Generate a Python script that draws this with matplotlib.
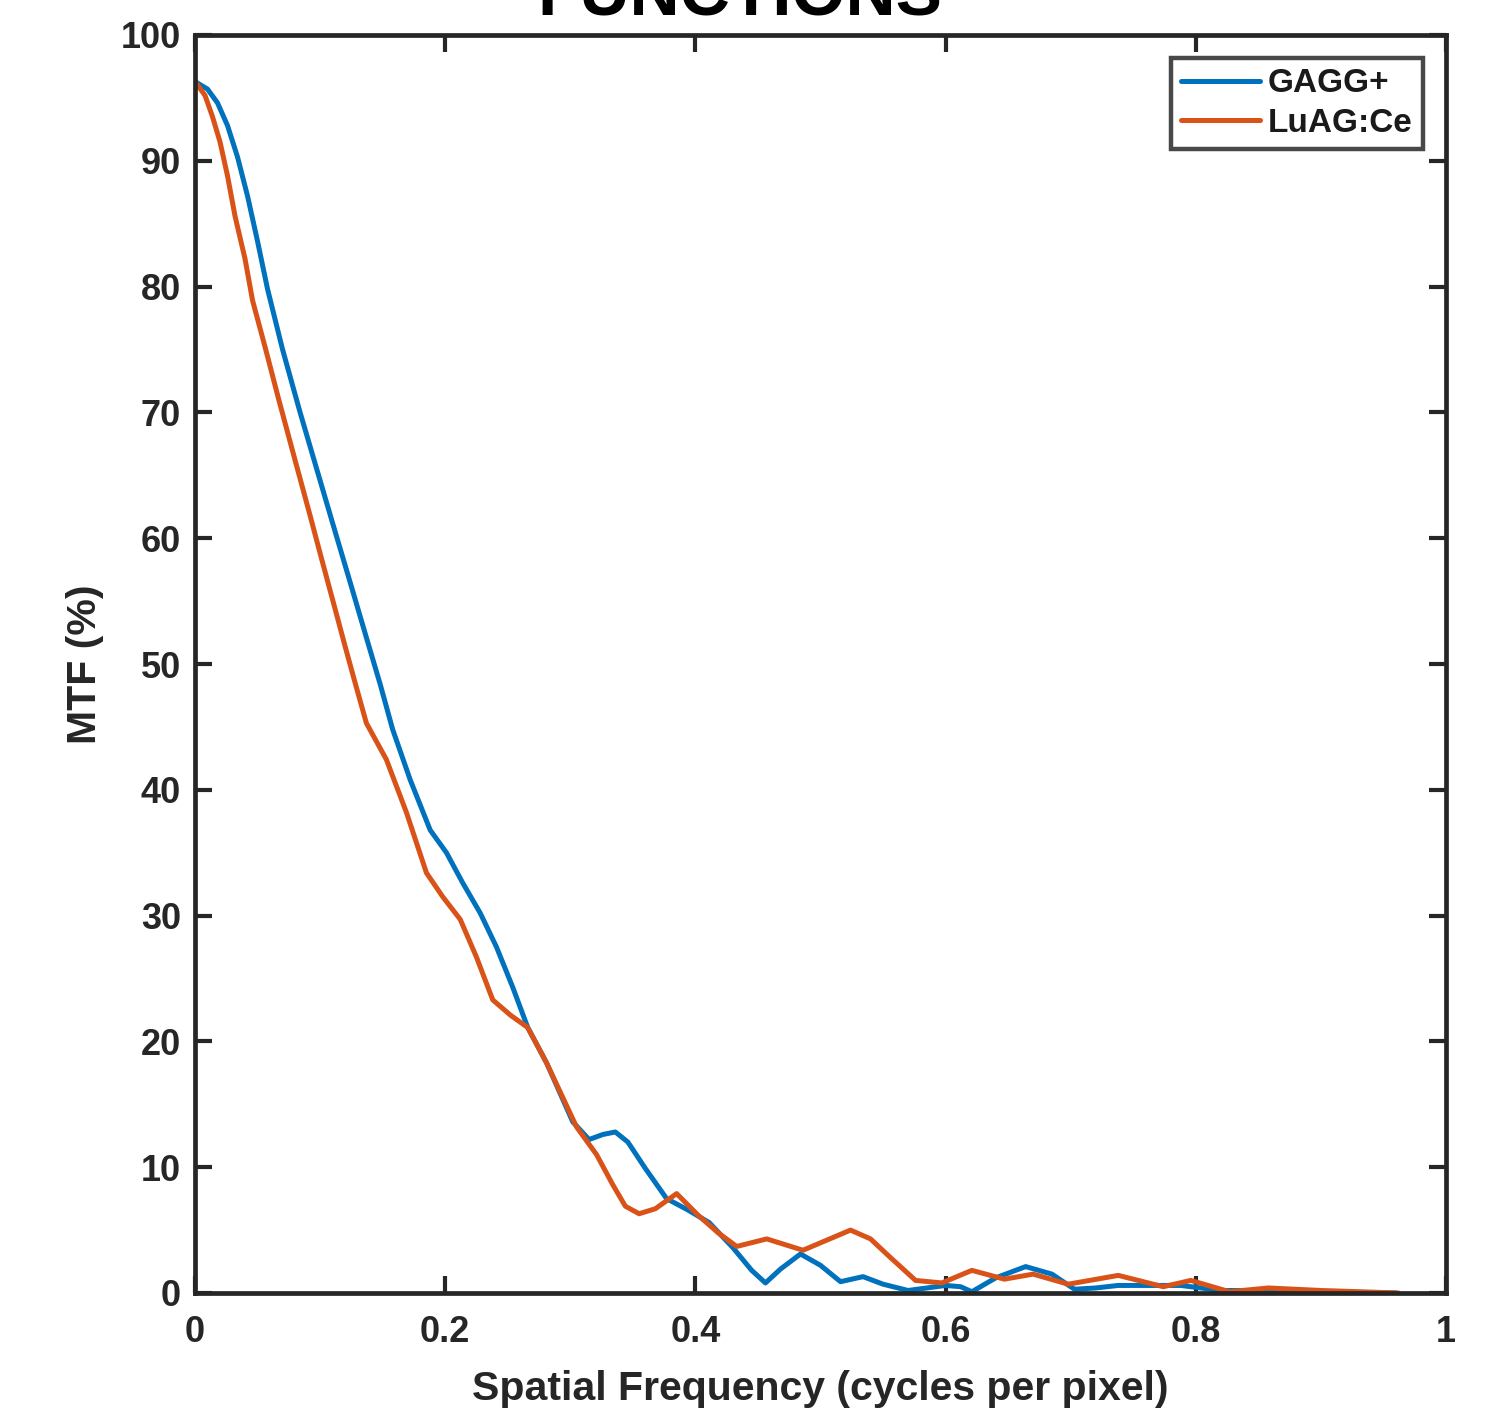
import matplotlib
matplotlib.use("Agg")
import matplotlib.pyplot as plt

plt.rcParams['font.family'] = ['Liberation Sans', 'DejaVu Sans']
plt.rcParams['font.weight'] = 'bold'

# GAGG+ curve
gagg_x = [0.000, 0.010, 0.018, 0.026, 0.034, 0.042, 0.050, 0.058, 0.070, 0.084, 0.097, 0.110,
          0.124, 0.137, 0.148, 0.158, 0.172, 0.188, 0.201, 0.214, 0.228, 0.241, 0.254, 0.266,
          0.281, 0.302, 0.315, 0.326, 0.336, 0.346, 0.360, 0.377, 0.394, 0.411, 0.430, 0.445,
          0.456, 0.468, 0.484, 0.500, 0.516, 0.534, 0.550, 0.570, 0.600, 0.612, 0.621, 0.640,
          0.664, 0.685, 0.703, 0.720, 0.738, 0.788, 0.820, 0.860, 0.900, 0.960]
gagg_y = [96.3, 95.7, 94.6, 92.8, 90.3, 87.2, 83.6, 79.8, 75.0, 70.0, 65.6, 61.2,
          56.5, 52.1, 48.4, 44.8, 40.8, 36.8, 35.0, 32.6, 30.2, 27.5, 24.3, 21.1,
          18.3, 13.6, 12.2, 12.6, 12.8, 12.0, 9.9, 7.5, 6.6, 5.6, 3.6, 1.8,
          0.8, 1.9, 3.1, 2.2, 0.9, 1.3, 0.7, 0.2, 0.6, 0.5, 0.1, 1.2,
          2.1, 1.5, 0.3, 0.4, 0.6, 0.6, 0.2, 0.2, 0.1, 0.0]

# LuAG:Ce curve
luag_x = [0.000, 0.008, 0.014, 0.020, 0.026, 0.032, 0.040, 0.046, 0.056, 0.067, 0.080, 0.092,
          0.100, 0.113, 0.120, 0.128, 0.137, 0.153, 0.169, 0.185, 0.198, 0.212, 0.225, 0.238,
          0.252, 0.266, 0.281, 0.305, 0.321, 0.334, 0.344, 0.355, 0.368, 0.385, 0.402, 0.418,
          0.433, 0.457, 0.486, 0.505, 0.524, 0.540, 0.555, 0.576, 0.597, 0.621, 0.647, 0.670,
          0.698, 0.738, 0.774, 0.796, 0.827, 0.858, 0.900, 0.962]
luag_y = [96.3, 95.2, 93.5, 91.5, 88.8, 85.6, 82.2, 78.9, 75.2, 71.0, 66.2, 61.8,
          58.8, 54.0, 51.4, 48.5, 45.3, 42.4, 38.2, 33.4, 31.5, 29.7, 26.7, 23.3,
          22.1, 21.1, 18.3, 13.2, 11.0, 8.6, 6.9, 6.3, 6.7, 7.9, 6.2, 4.8,
          3.7, 4.3, 3.4, 4.2, 5.0, 4.3, 2.9, 1.0, 0.8, 1.8, 1.1, 1.5,
          0.7, 1.4, 0.5, 1.0, 0.1, 0.4, 0.2, 0.0]

series_labels = ['GAGG+', 'LuAG:Ce']
x_ticks = [0, 0.2, 0.4, 0.6, 0.8, 1]
x_ticklabels = ['0', '0.2', '0.4', '0.6', '0.8', '1']
y_ticks = [0, 10, 20, 30, 40, 50, 60, 70, 80, 90, 100]

fig = plt.figure(figsize=(14.88, 14.09), dpi=100)
ax = fig.add_axes([195/1488, 1 - 1293/1409, (1446-195)/1488, (1293-35)/1409])

ax.plot(gagg_x, gagg_y, color='#0072BD', lw=3.6, label=series_labels[0],
        solid_joinstyle='round', solid_capstyle='round')
ax.plot(luag_x, luag_y, color='#D95319', lw=3.6, label=series_labels[1],
        solid_joinstyle='round', solid_capstyle='round')

ax.set_xlim(0, 1)
ax.set_ylim(0, 100)
ax.set_xticks(x_ticks)
ax.set_xticklabels(x_ticklabels)
ax.set_yticks(y_ticks)
ax.tick_params(direction='in', length=12, width=3, colors='#262626', labelsize=26,
               top=True, right=True)
ax.tick_params(axis='x', pad=16)
ax.tick_params(axis='y', pad=10)
for lab in ax.get_xticklabels() + ax.get_yticklabels():
    lab.set_fontweight('bold')
for s in ax.spines.values():
    s.set_linewidth(3.4)
    s.set_color('#262626')

ax.set_xlabel('Spatial Frequency (cycles per pixel)', fontsize=29.5, fontweight='bold',
              color='#262626', labelpad=14)
ax.set_ylabel('MTF (%)', fontsize=29.5, fontweight='bold', color='#262626', labelpad=12)

leg = ax.legend(loc='upper right', fontsize=24, frameon=True, fancybox=False,
                handlelength=2.35, handletextpad=0.25, borderpad=0.3, labelspacing=0.25,
                borderaxespad=0.7)
leg.get_frame().set_edgecolor('#1a1a1a')
leg.get_frame().set_linewidth(3.2)
for line in leg.get_lines():
    line.set_linewidth(3.6)
for t in leg.get_texts():
    t.set_fontweight('bold')
    t.set_color('#1a1a1a')

fig.text(740/1488, 1 - 15/1409, 'FUNCTIONS', ha='center', va='baseline',
         fontsize=50, fontweight='bold', color='black')

fig.savefig('out.png', dpi=100)
